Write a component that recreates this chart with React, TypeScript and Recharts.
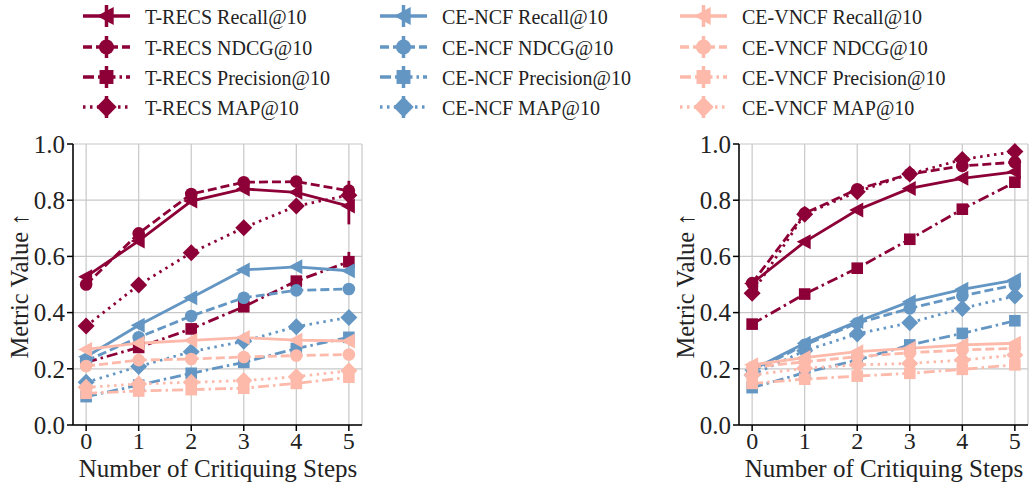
import React from 'react';
import { LineChart, Line, XAxis, YAxis, CartesianGrid, ErrorBar } from 'recharts';

const steps = [0, 1, 2, 3, 4, 5];
const yTicks = [0, 0.2, 0.4, 0.6, 0.8, 1.0];
const models = ['T-RECS', 'CE-NCF', 'CE-VNCF'];
const metrics = ['Recall', 'NDCG', 'Precision', 'MAP'];

// left panel
const leftTrecsRecall = [0.528, 0.655, 0.797, 0.84, 0.828, 0.779];
const leftTrecsNdcg = [0.5, 0.682, 0.822, 0.864, 0.866, 0.834];
const leftTrecsPrecision = [0.223, 0.276, 0.342, 0.421, 0.512, 0.581];
const leftTrecsMap = [0.352, 0.498, 0.613, 0.702, 0.779, 0.818];
const leftNcfRecall = [0.243, 0.355, 0.453, 0.552, 0.563, 0.549];
const leftNcfNdcg = [0.228, 0.312, 0.388, 0.453, 0.479, 0.484];
const leftNcfPrecision = [0.101, 0.142, 0.184, 0.223, 0.272, 0.312];
const leftNcfMap = [0.152, 0.208, 0.261, 0.298, 0.35, 0.383];
const leftVncfRecall = [0.269, 0.291, 0.301, 0.311, 0.302, 0.299];
const leftVncfNdcg = [0.21, 0.231, 0.235, 0.242, 0.247, 0.251];
const leftVncfPrecision = [0.113, 0.121, 0.126, 0.131, 0.148, 0.17];
const leftVncfMap = [0.134, 0.146, 0.152, 0.158, 0.172, 0.193];

// error bars visible on the left T-RECS curves
const leftTrecsRecallErr = [0.01, 0.01, 0.01, 0.01, 0.015, 0.065];
const leftTrecsNdcgErr = [0.01, 0.01, 0.01, 0.01, 0.01, 0.035];
const leftTrecsPrecisionErr = [0.01, 0.01, 0.01, 0.01, 0.015, 0.035];

// right panel
const rightTrecsRecall = [0.504, 0.652, 0.765, 0.842, 0.878, 0.901];
const rightTrecsNdcg = [0.505, 0.753, 0.839, 0.893, 0.922, 0.935];
const rightTrecsPrecision = [0.359, 0.466, 0.558, 0.661, 0.768, 0.864];
const rightTrecsMap = [0.469, 0.75, 0.83, 0.893, 0.945, 0.973];
const rightNcfRecall = [0.196, 0.291, 0.368, 0.439, 0.483, 0.516];
const rightNcfNdcg = [0.19, 0.285, 0.362, 0.415, 0.46, 0.498];
const rightNcfPrecision = [0.133, 0.186, 0.231, 0.285, 0.326, 0.371];
const rightNcfMap = [0.178, 0.264, 0.324, 0.364, 0.415, 0.459];
const rightVncfRecall = [0.214, 0.24, 0.261, 0.273, 0.285, 0.291];
const rightVncfNdcg = [0.205, 0.225, 0.243, 0.257, 0.267, 0.273];
const rightVncfPrecision = [0.148, 0.163, 0.174, 0.184, 0.198, 0.214];
const rightVncfMap = [0.178, 0.202, 0.214, 0.219, 0.231, 0.249];

const colors: Record<string, string> = {
  'T-RECS': '#8c0037',
  'CE-NCF': '#6496c4',
  'CE-VNCF': '#fdb9aa',
};
const dashes: Record<string, string | undefined> = {
  Recall: undefined,
  NDCG: '9 4',
  Precision: '11 4 2.5 4',
  MAP: '2.5 4.5',
};

const FONT = "'Liberation Serif', 'Times New Roman', 'DejaVu Serif', serif";

const leftSeries: Record<string, number[]> = {
  'T-RECS Recall': leftTrecsRecall,
  'T-RECS NDCG': leftTrecsNdcg,
  'T-RECS Precision': leftTrecsPrecision,
  'T-RECS MAP': leftTrecsMap,
  'CE-NCF Recall': leftNcfRecall,
  'CE-NCF NDCG': leftNcfNdcg,
  'CE-NCF Precision': leftNcfPrecision,
  'CE-NCF MAP': leftNcfMap,
  'CE-VNCF Recall': leftVncfRecall,
  'CE-VNCF NDCG': leftVncfNdcg,
  'CE-VNCF Precision': leftVncfPrecision,
  'CE-VNCF MAP': leftVncfMap,
};
const leftErrors: Record<string, number[]> = {
  'T-RECS Recall': leftTrecsRecallErr,
  'T-RECS NDCG': leftTrecsNdcgErr,
  'T-RECS Precision': leftTrecsPrecisionErr,
};
const rightSeries: Record<string, number[]> = {
  'T-RECS Recall': rightTrecsRecall,
  'T-RECS NDCG': rightTrecsNdcg,
  'T-RECS Precision': rightTrecsPrecision,
  'T-RECS MAP': rightTrecsMap,
  'CE-NCF Recall': rightNcfRecall,
  'CE-NCF NDCG': rightNcfNdcg,
  'CE-NCF Precision': rightNcfPrecision,
  'CE-NCF MAP': rightNcfMap,
  'CE-VNCF Recall': rightVncfRecall,
  'CE-VNCF NDCG': rightVncfNdcg,
  'CE-VNCF Precision': rightVncfPrecision,
  'CE-VNCF MAP': rightVncfMap,
};

const buildRows = (series: Record<string, number[]>, errors: Record<string, number[]>) =>
  steps.map((s, i) => {
    const row: Record<string, number> = { step: s };
    Object.keys(series).forEach((k) => {
      row[k] = series[k][i];
    });
    Object.keys(errors).forEach((k) => {
      row[k + ' err'] = errors[k][i];
    });
    return row;
  });

const Marker = ({ cx, cy, metric, color, big }: { cx: number; cy: number; metric: string; color: string; big?: boolean }) => {
  if (cx == null || cy == null) return null;
  const s = big ? 1.2 : 1;
  if (metric === 'Recall') {
    return <polygon points={`${cx - 8 * s},${cy} ${cx + 6 * s},${cy - 7.5 * s} ${cx + 6 * s},${cy + 7.5 * s}`} fill={color} />;
  }
  if (metric === 'NDCG') return <circle cx={cx} cy={cy} r={6.3 * s} fill={color} />;
  if (metric === 'Precision') return <rect x={cx - 5.8 * s} y={cy - 5.8 * s} width={11.6 * s} height={11.6 * s} fill={color} />;
  return <polygon points={`${cx},${cy - 8.5 * s} ${cx + 8.5 * s},${cy} ${cx},${cy + 8.5 * s} ${cx - 8.5 * s},${cy}`} fill={color} />;
};

const Panel = ({ series, errors }: { series: Record<string, number[]>; errors: Record<string, number[]> }) => {
  const rows = buildRows(series, errors);
  return (
    <LineChart
      width={364}
      height={484}
      data={rows}
      margin={{ top: 144, right: 2, left: 0, bottom: 0 }}
      style={{ fontFamily: FONT }}
    >
      <CartesianGrid stroke="#c8c8c8" strokeWidth={1.2} />
      <XAxis
        dataKey="step"
        type="number"
        domain={[-0.25, 5.25]}
        ticks={steps}
        height={59}
        tickSize={6}
        tickMargin={1}
        stroke="#000"
        strokeWidth={1.5}
        tick={{ fill: '#222', fontSize: 24, fontFamily: FONT }}
        label={{
          content: () => (
            <text x={218} y={477} textAnchor="middle" fontSize={25} style={{ fontFamily: FONT }} fill="#222">
              Number of Critiquing Steps
            </text>
          ),
        }}
      />
      <XAxis xAxisId="top" orientation="top" type="number" domain={[-0.25, 5.25]} height={0} tick={false} tickLine={false} stroke="#000" strokeWidth={1.5} />
      <YAxis
        type="number"
        domain={[0, 1]}
        ticks={yTicks}
        width={73}
        tickSize={6}
        tickMargin={2}
        stroke="#000"
        strokeWidth={1.5}
        tickFormatter={(v: number) => v.toFixed(1)}
        tick={{ fill: '#222', fontSize: 25, fontFamily: FONT }}
        label={{
          content: () => (
            <text x={28} y={286} transform="rotate(-90 28 286)" textAnchor="middle" fontSize={24.5} style={{ fontFamily: FONT }} fill="#222">
              Metric Value ↑
            </text>
          ),
        }}
      />
      <YAxis yAxisId="right" orientation="right" type="number" domain={[0, 1]} width={0} tick={false} tickLine={false} stroke="#000" strokeWidth={1.5} />
      {models.flatMap((m) =>
        metrics.map((metric) => {
          const key = `${m} ${metric}`;
          const color = colors[m];
          return (
            <Line
              key={key}
              dataKey={key}
              stroke={color}
              strokeWidth={2.8}
              strokeDasharray={dashes[metric]}
              isAnimationActive={false}
              dot={(p: any) => <Marker key={`${key}-${p.index}`} cx={p.cx} cy={p.cy} metric={metric} color={color} />}
              activeDot={false}
            >
              {errors[key] && <ErrorBar dataKey={`${key} err`} width={0} stroke={color} strokeWidth={2.8} direction="y" />}
            </Line>
          );
        })
      )}
    </LineChart>
  );
};

const legendCols = [83, 380, 680];
const legendRows = [16, 47, 77, 107];

const ChartLegend = () => (
  <svg width={1030} height={125} style={{ position: 'absolute', left: 0, top: 0, fontFamily: FONT }}>
    {models.map((m, ci) =>
      metrics.map((metric, ri) => {
        const x = legendCols[ci];
        const y = legendRows[ri];
        const color = colors[m];
        return (
          <g key={`${m}-${metric}`}>
            <line x1={x} y1={y} x2={x + 47} y2={y} stroke={color} strokeWidth={3.5} strokeDasharray={dashes[metric]} />
            <line x1={x + 23.5} y1={y - 11} x2={x + 23.5} y2={y + 11} stroke={color} strokeWidth={3.5} />
            <Marker cx={x + 23.5} cy={y} metric={metric} color={color} big />
            <text x={x + 62} y={y + 8} fontSize={20} style={{ fontFamily: FONT }} fill="#222">
              {`${m} ${metric}@10`}
            </text>
          </g>
        );
      })
    )}
  </svg>
);

export default function App() {
  return (
    <div style={{ position: 'absolute', left: 0, top: 0, width: 1030, height: 484, background: '#fff', fontFamily: FONT }}>
      <ChartLegend />
      <div style={{ position: 'absolute', left: 0, top: 0 }}>
        <Panel series={leftSeries} errors={leftErrors} />
      </div>
      <div style={{ position: 'absolute', left: 666, top: 0 }}>
        <Panel series={rightSeries} errors={{}} />
      </div>
    </div>
  );
}
